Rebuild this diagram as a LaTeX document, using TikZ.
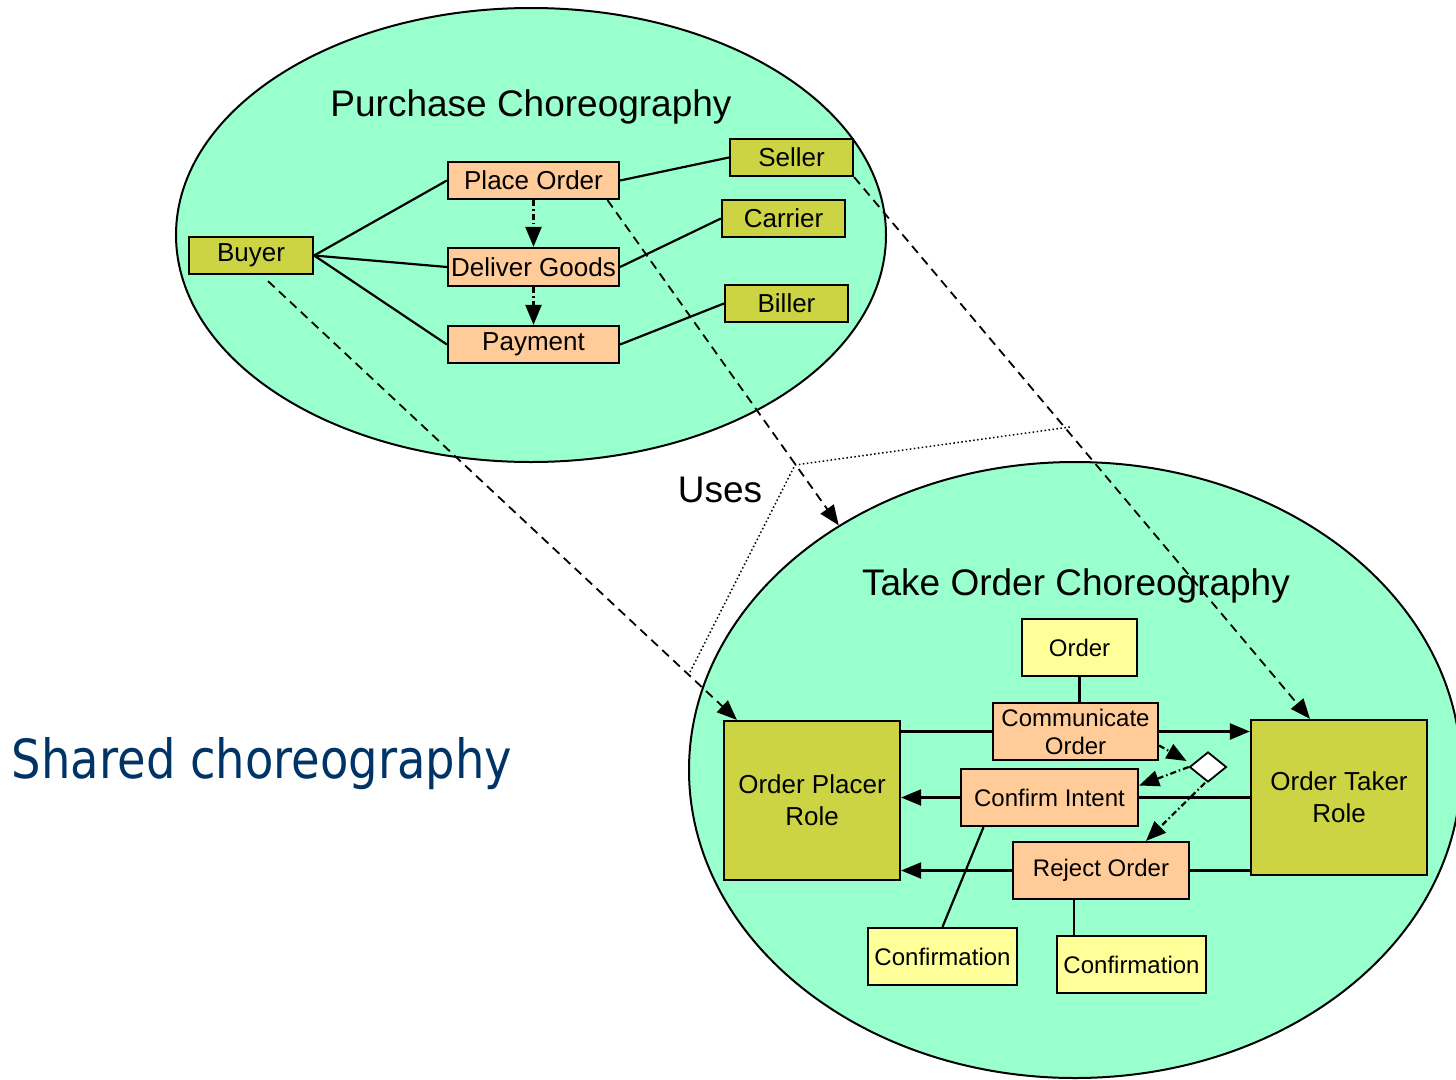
\documentclass[tikz,border=0pt]{standalone}
\usepackage{fontspec}
\setmainfont{Liberation Sans}
\newfontfamily\sharedfont{DejaVu Sans}
\usetikzlibrary{arrows.meta,shapes.geometric,calc}
\definecolor{mint}{RGB}{153,255,204}
\definecolor{roleolive}{RGB}{204,212,68}
\definecolor{peach}{RGB}{255,204,153}
\definecolor{paleyellow}{RGB}{255,255,153}
\definecolor{sharednavy}{RGB}{0,51,102}
\begin{document}
\begin{tikzpicture}[x=1pt,y=-1pt,
  box/.style={draw, line width=2.2pt, inner sep=0pt, align=center},
  rolebox/.style={box, fill=roleolive, font=\fontsize{26}{32}\selectfont},
  actbox/.style={box, fill=peach, font=\fontsize{26}{30}\selectfont},
  smallact/.style={box, fill=peach, font=\fontsize{24}{28}\selectfont},
  databox/.style={box, fill=paleyellow, font=\fontsize{24}{28}\selectfont},
  chor/.style={ellipse, draw, line width=2pt, fill=mint, inner sep=0pt},
  title/.style={font=\fontsize{37}{40}\selectfont, inner sep=0pt},
  link/.style={line width=2.2pt},
  tip/.style={-{Triangle[length=20pt,width=16pt]}},
  flow/.style={link, tip},
  seq/.style={link, tip, dash pattern=on 6pt off 3pt on 1.5pt off 3pt},
  mapto/.style={line width=1.8pt, tip, dash pattern=on 9pt off 6pt},
  uses/.style={line width=1.5pt, dash pattern=on 1.5pt off 2.5pt}
]
\useasboundingbox (0,0) rectangle (1456,1079);
\clip (0,0) rectangle (1456,1079);

% choreography ellipses
\node[chor, minimum width=710pt, minimum height=454pt] (purch) at (531,235) {};
\node[chor, minimum width=772pt, minimum height=616pt] (take) at (1075,770) {};

\node[title] (ptitle) at (531,107) {Purchase Choreography};
\node[title] (ttitle) at (1076,586) {Take Order Choreography};
\node[title] (usestext) at (720,490) {Uses};
\node[inner sep=0pt, text=sharednavy] (shared) at (262,764)
  {\scalebox{0.86}[1]{\sharedfont\fontsize{54}{60}\selectfont Shared choreography}};

% top choreography nodes
\node[rolebox, minimum width=123pt, minimum height=37pt] (seller) at (791.5,157.5) {Seller};
\node[actbox, minimum width=171pt, minimum height=37pt] (po) at (533.5,180.5) {Place Order};
\node[rolebox, minimum width=123pt, minimum height=37pt] (carrier) at (783.5,218.5) {Carrier};
\node[rolebox, minimum width=124pt, minimum height=37pt] (buyer) at (251,255.5) {Buyer};
\node[actbox, minimum width=171pt, minimum height=38pt] (dg) at (533.5,267) {Deliver Goods};
\node[rolebox, minimum width=123pt, minimum height=37pt] (biller) at (786.5,303.5) {Biller};
\node[actbox, minimum width=171pt, minimum height=37pt] (pay) at (533.5,344.5) {Payment};

\draw[link] (buyer.east) -- (po.west);
\draw[link] (buyer.east) -- (dg.west);
\draw[link] (buyer.east) -- (pay.west);
\draw[link] (po.east) -- (seller.west);
\draw[link] (dg.east) -- (carrier.west);
\draw[link] (pay.east) -- (biller.west);
\draw[seq] (po.south) -- (dg.north);
\draw[seq] (dg.south) -- (pay.north);

% bottom choreography nodes
\node[databox, minimum width=115pt, minimum height=57pt] (order) at (1079.5,647.5) {Order};
\node[smallact, minimum width=165pt, minimum height=57pt] (comm) at (1075.5,731.5) {Communicate\\Order};
\node[rolebox, minimum width=176pt, minimum height=159pt] (placer) at (812,800.5) {Order Placer\\Role};
\node[rolebox, minimum width=176pt, minimum height=155pt] (taker) at (1339,797.5) {Order Taker\\Role};
\node[smallact, minimum width=177pt, minimum height=57pt] (ci) at (1049.5,797.5) {Confirm Intent};
\node[smallact, minimum width=176pt, minimum height=57pt] (rej) at (1101,870.5) {Reject Order};
\node[databox, minimum width=149pt, minimum height=57pt] (conf1) at (942.5,956.5) {Confirmation};
\node[databox, minimum width=149pt, minimum height=57pt] (conf2) at (1131.5,964.5) {Confirmation};
\node[diamond, draw, fill=white, line width=1.8pt, inner sep=0pt, minimum width=37pt, minimum height=30pt] (dia) at (1208,767) {};

\draw[link] (order.south) -- (order.south |- comm.north);
\draw[link] (comm.west) -- (comm.west -| placer.east);
\draw[flow] (comm.east) -- (comm.east -| taker.west);
\draw[link] (ci.east) -- (ci.east -| taker.west);
\draw[flow] (ci.west) -- (ci.west -| placer.east);
\draw[link] (rej.east) -- (rej.east -| taker.west);
\draw[flow] (rej.west) -- (rej.west -| placer.east);
\draw[link] ([xshift=-66pt]ci.south) -- (conf1.north);
\draw[link] ([xshift=-27pt]rej.south) -- ([xshift=-27pt]rej.south |- conf2.north);
\draw[seq] ([yshift=-14pt]comm.east) -- ([xshift=-2pt,yshift=6pt]dia.west);
\draw[seq] (dia.west) -- ([yshift=12pt]ci.east);
\draw[seq] ([xshift=-3pt]dia.south) -- ([xshift=45pt]rej.north);

% uses projection and role mappings
\coordinate (u1) at (690,672);
\coordinate (u2) at (795,465);
\coordinate (u3) at (1070,427);
\draw[uses] (u1) -- (u2) -- (u3);
\draw[mapto] ([xshift=17pt,yshift=-6pt]buyer.south) -- ([xshift=14pt]placer.north west);
\draw[mapto] ([xshift=74pt]po.south) -- (take.134.3);
\draw[mapto] (seller.south east) -- ([xshift=-29pt]taker.north);
\end{tikzpicture}
\end{document}
